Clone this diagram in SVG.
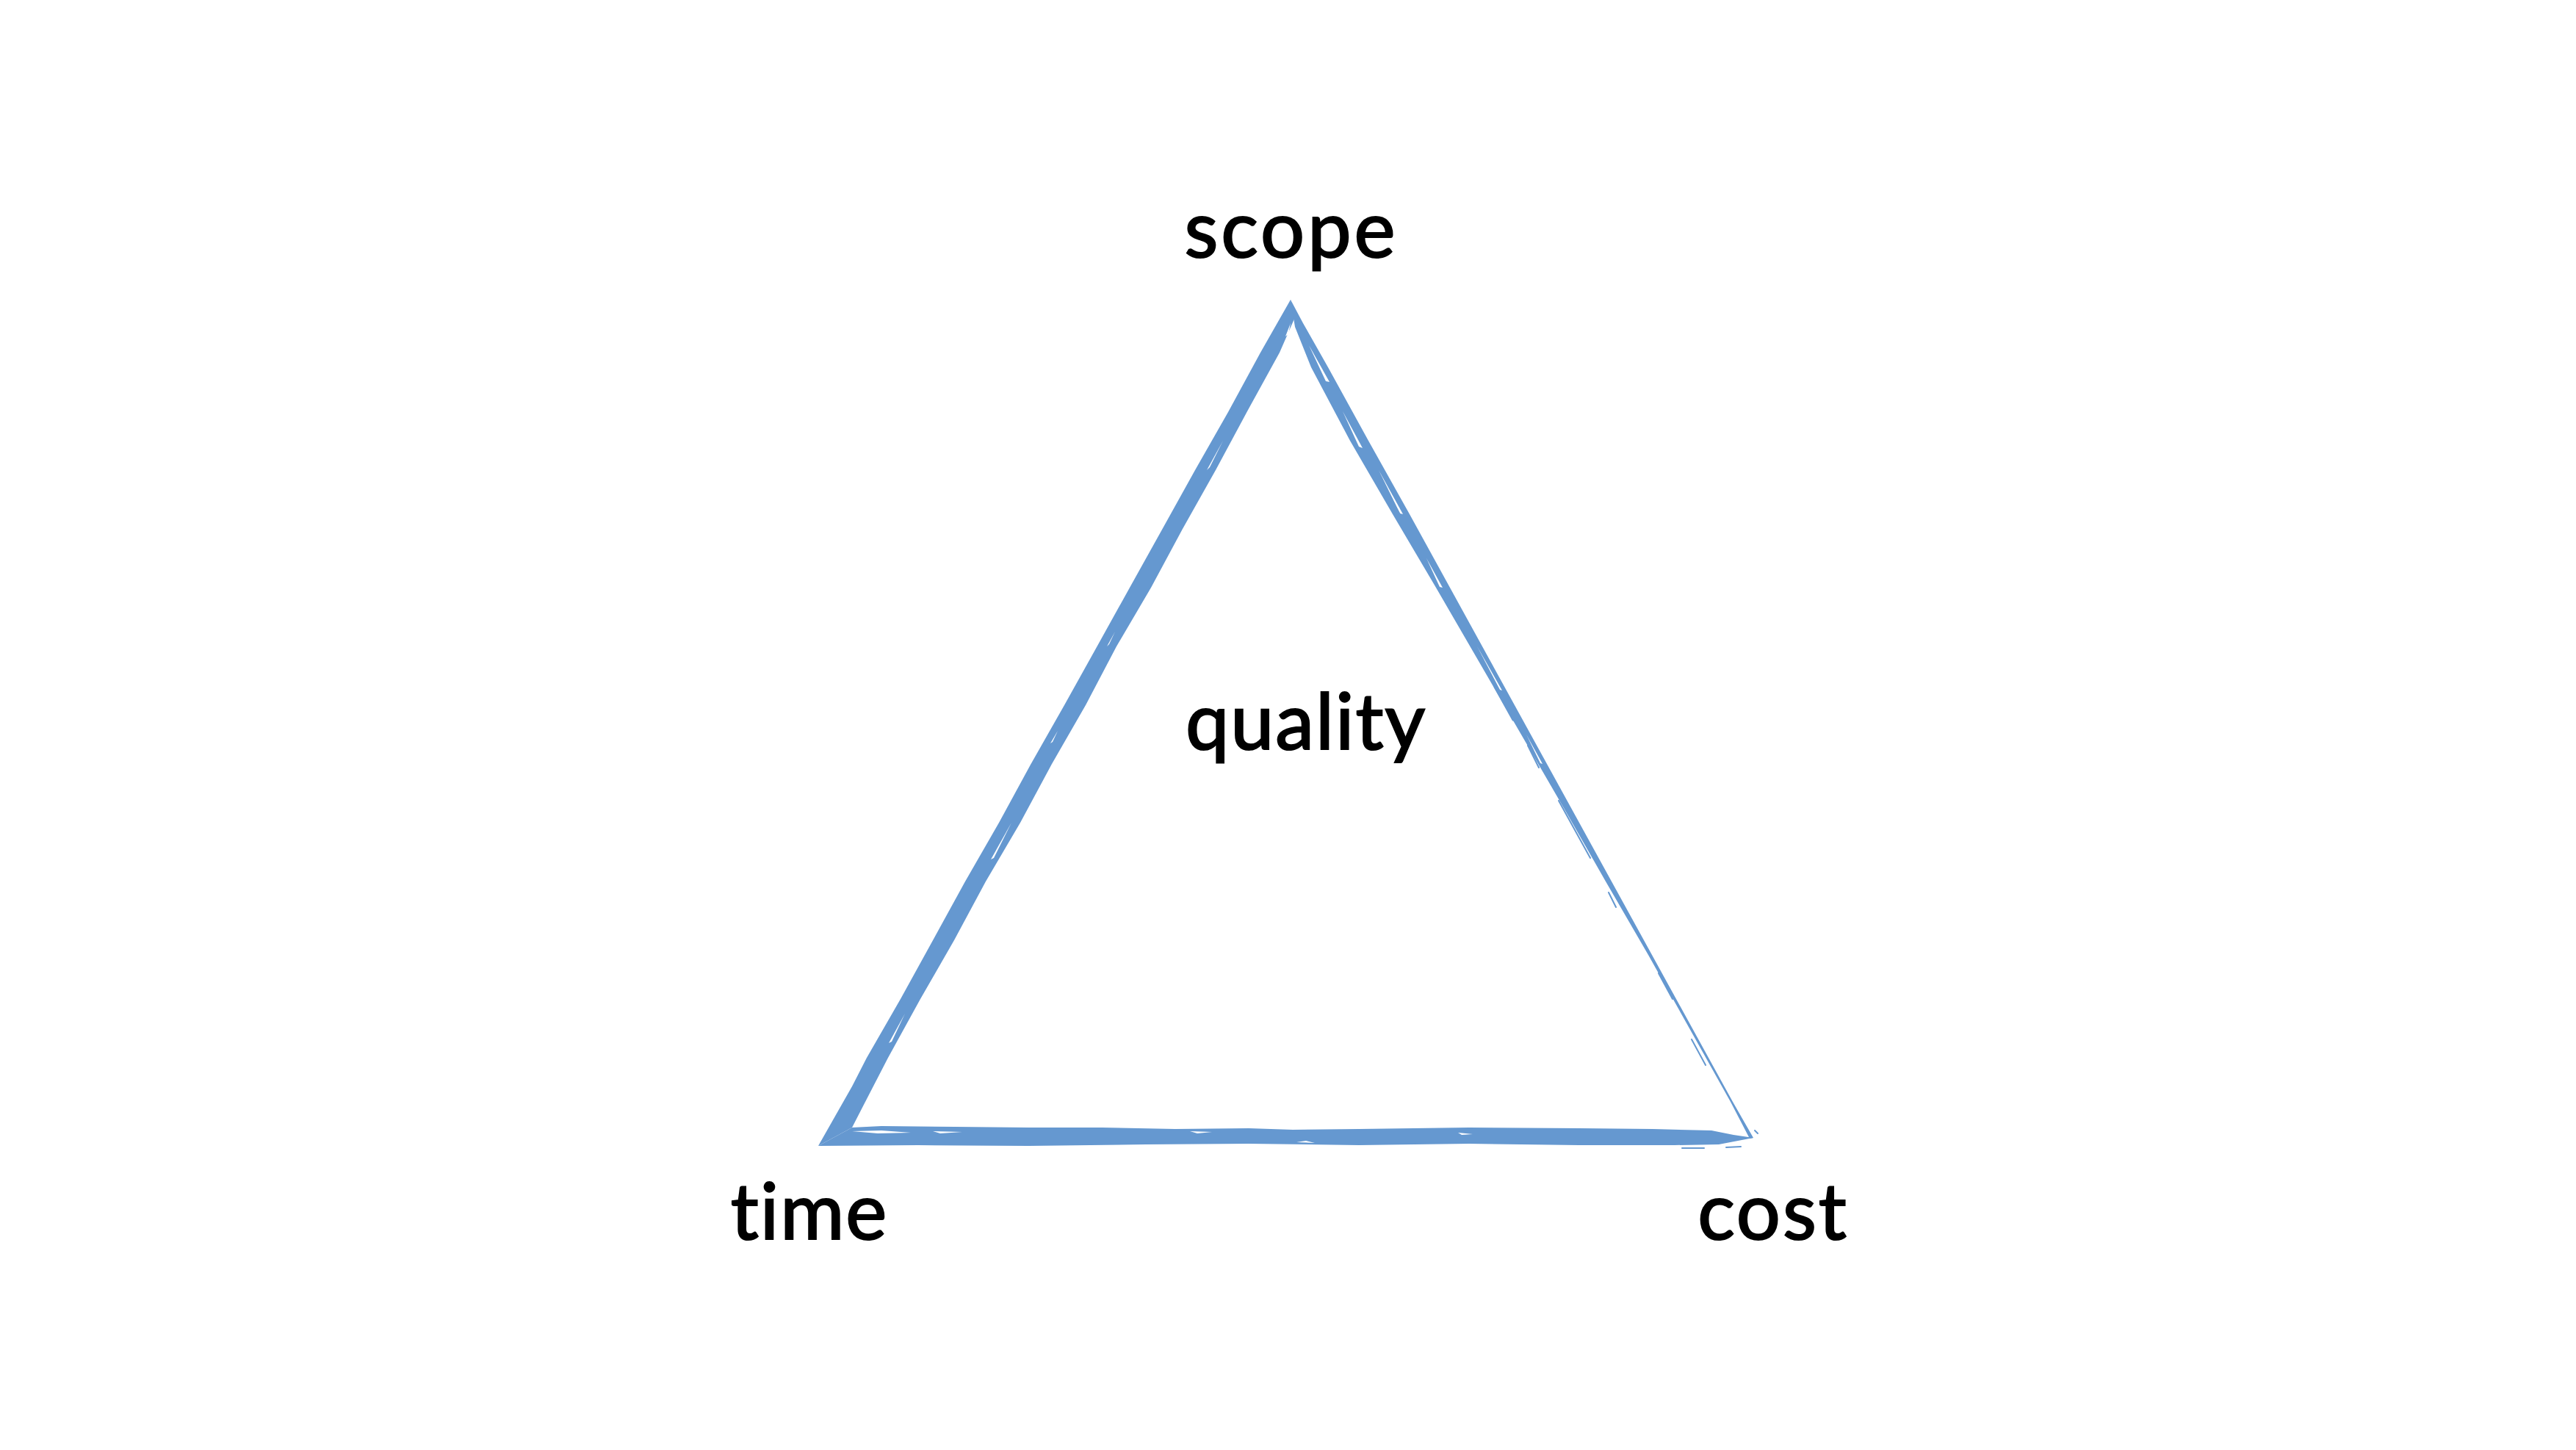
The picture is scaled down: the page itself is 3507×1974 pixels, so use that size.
<svg xmlns="http://www.w3.org/2000/svg" width="3507" height="1974" viewBox="0 0 3507 1974">
<style>
.lbl{font-family:Lato,"Open Sans","Liberation Sans",sans-serif;font-size:106px;fill:#000;stroke:#000;stroke-width:2.2;text-anchor:middle;font-variant-ligatures:none;font-feature-settings:"liga" 0}
.brush{fill:#6598d0}
.streak{fill:#fff}
.frag{fill:none;stroke:#6598d0;stroke-linecap:round}
</style>
<rect width="3507" height="1974" fill="#fff"/>
<g id="connectors">
  <path id="edge-time-scope" class="brush" d="M1114,1560 L1160,1479 L1180,1440 L1226,1360 L1269,1282 L1314,1200 L1360,1120 L1403,1041 L1449,960 L1493,881 L1538,800 L1582,721 L1627,640 L1672,561 L1716,480 L1757,408 L1763,432 L1742,480 L1698,560 L1655,640 L1610,720 L1567,800 L1520,880 L1478,960 L1432,1040 L1389,1120 L1342,1200 L1299,1280 L1253,1360 L1209,1440 L1178,1500 L1160,1535 Z"/>
  <path id="edge-scope-cost" class="brush" d="M1757,408 L1774,440 L1808,500 L1863,600 L1919,700 L1974,800 L2029,900 L2084,1000 L2139,1100 L2194,1200 L2249,1300 L2304,1400 L2359,1500 L2387,1549 L2382,1550 L2356,1500 L2300,1400 L2244,1300 L2186,1200 L2129,1100 L2071,1000 L2013,900 L1955,800 L1896,700 L1838,600 L1785,500 L1763,445 Z"/>
  <path id="edge-time-cost" class="brush" d="M1114,1560 L1250,1559 L1400,1560 L1560,1558 L1700,1557 L1850,1559 L2000,1557 L2150,1559 L2280,1559 L2340,1558 L2387,1549 L2360,1545 L2330,1539 L2250,1537 L2150,1536 L2000,1535 L1850,1537 L1760,1538 L1700,1536 L1600,1537 L1500,1535 L1400,1535 L1300,1534 L1200,1533 L1160,1535 Z"/>
  <g class="streak">
    <path d="M1782,470 L1810,520 L1805,519 Z"/>
    <path d="M1828,560 L1855,610 L1850,608 Z"/>
    <path d="M1877,640 L1910,700 L1906,699 Z"/>
    <path d="M1942,760 L1964,800 L1960,799 Z"/>
    <path d="M2011,880 L2045,940 L2042,939 Z"/>
    <path d="M2078,1000 L2100,1040 L2097,1039 Z"/>
    <path d="M1665,600 L1643,640 L1647,636 Z"/>
    <path d="M1757,440 L1750,458 L1754,455 Z"/>
    <path d="M1518,860 L1507,880 L1510,877 Z"/>
    <path d="M1377,1120 L1349,1170 L1353,1168 Z"/>
    <path d="M1232,1380 L1210,1420 L1214,1418 Z"/>
    <path d="M1440,995 L1430,1012 L1433,1010 Z"/>
    <path d="M1160,1540 L1200,1539 L1240,1542 L1195,1543 Z"/>
    <path d="M1270,1540 L1310,1541 L1280,1543 Z"/>
    <path d="M1620,1540 L1650,1541 L1630,1543 Z"/>
    <path d="M1765,1555 L1778,1553 L1790,1556 Z"/>
    <path d="M1985,1542 L2005,1544 L1990,1545 Z"/>
  </g>
  <g class="frag">
    <path d="M1880,655 L1905,700" stroke-width="3"/>
    <path d="M1935,760 L1955,795" stroke-width="2"/>
    <path d="M2035,935 L2060,980" stroke-width="3"/>
    <path d="M2080,1015 L2095,1045" stroke-width="2"/>
    <path d="M2122,1090 L2165,1168" stroke-width="2"/>
    <path d="M2190,1215 L2200,1235" stroke-width="2"/>
    <path d="M2258,1325 L2277,1360" stroke-width="2"/>
    <path d="M2303,1415 L2322,1450" stroke-width="2"/>
    <path d="M2389,1539 L2393,1543" stroke-width="2"/>
    <path d="M2350,1562 L2370,1561" stroke-width="2"/>
    <path d="M2290,1563 L2320,1563" stroke-width="2"/>
  </g>
</g>
<g id="node-scope"><text class="lbl" x="1758" y="350" letter-spacing="4">scope</text></g>
<g id="node-quality"><text class="lbl" x="1778" y="1020" letter-spacing="2">quality</text></g>
<g id="node-time"><text class="lbl" x="1102" y="1687" letter-spacing="2">time</text></g>
<g id="node-cost"><text class="lbl" x="2414" y="1687" letter-spacing="3">cost</text></g>
</svg>
